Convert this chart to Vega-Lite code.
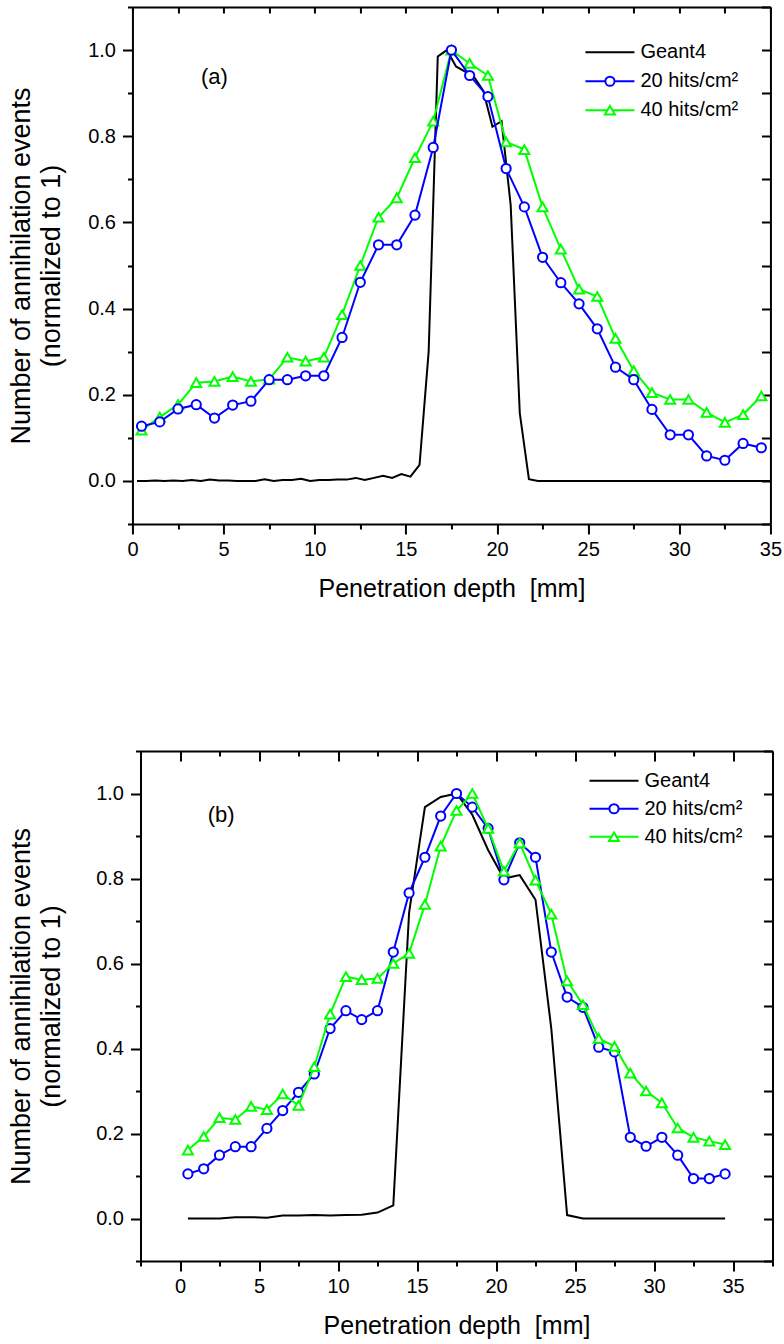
{
  "$schema": "https://vega.github.io/schema/vega-lite/v6.json",
  "background": "white",
  "padding": {"left": 7, "top": 6, "right": 0, "bottom": 5},
  "spacing": 149,
  "center": true,
  "datasets": {
    "a": [
      {"s":"Geant4","x":0.25,"y":0},{"s":"Geant4","x":0.75,"y":0},{"s":"Geant4","x":1.25,"y":0.001},{"s":"Geant4","x":1.75,"y":0},{"s":"Geant4","x":2.25,"y":0.001},{"s":"Geant4","x":2.75,"y":0},{"s":"Geant4","x":3.25,"y":0.002},{"s":"Geant4","x":3.75,"y":0},{"s":"Geant4","x":4.25,"y":0.003},{"s":"Geant4","x":4.75,"y":0.001},{"s":"Geant4","x":5.25,"y":0.001},{"s":"Geant4","x":5.75,"y":0},{"s":"Geant4","x":6.25,"y":0},{"s":"Geant4","x":6.75,"y":0},{"s":"Geant4","x":7.25,"y":0.004},{"s":"Geant4","x":7.75,"y":0},{"s":"Geant4","x":8.25,"y":0.002},{"s":"Geant4","x":8.75,"y":0.002},{"s":"Geant4","x":9.25,"y":0.005},{"s":"Geant4","x":9.75,"y":0},{"s":"Geant4","x":10.25,"y":0.002},{"s":"Geant4","x":10.75,"y":0.002},{"s":"Geant4","x":11.25,"y":0.003},{"s":"Geant4","x":11.75,"y":0.003},{"s":"Geant4","x":12.25,"y":0.007},{"s":"Geant4","x":12.75,"y":0.002},{"s":"Geant4","x":13.25,"y":0.007},{"s":"Geant4","x":13.75,"y":0.012},{"s":"Geant4","x":14.25,"y":0.007},{"s":"Geant4","x":14.75,"y":0.016},{"s":"Geant4","x":15.25,"y":0.01},{"s":"Geant4","x":15.75,"y":0.037},{"s":"Geant4","x":16.25,"y":0.3},{"s":"Geant4","x":16.75,"y":0.985},{"s":"Geant4","x":17.25,"y":1.0},{"s":"Geant4","x":17.75,"y":0.962},{"s":"Geant4","x":18.25,"y":0.95},{"s":"Geant4","x":18.75,"y":0.937},{"s":"Geant4","x":19.25,"y":0.905},{"s":"Geant4","x":19.75,"y":0.822},{"s":"Geant4","x":20.25,"y":0.835},{"s":"Geant4","x":20.75,"y":0.64},{"s":"Geant4","x":21.25,"y":0.157},{"s":"Geant4","x":21.75,"y":0.004},{"s":"Geant4","x":22.25,"y":0},{"s":"Geant4","x":22.75,"y":0},{"s":"Geant4","x":23.25,"y":0},{"s":"Geant4","x":23.75,"y":0},{"s":"Geant4","x":24.25,"y":0},{"s":"Geant4","x":24.75,"y":0},{"s":"Geant4","x":25.25,"y":0},{"s":"Geant4","x":25.75,"y":0},{"s":"Geant4","x":26.25,"y":0},{"s":"Geant4","x":26.75,"y":0},{"s":"Geant4","x":27.25,"y":0},{"s":"Geant4","x":27.75,"y":0},{"s":"Geant4","x":28.25,"y":0},{"s":"Geant4","x":28.75,"y":0},{"s":"Geant4","x":29.25,"y":0},{"s":"Geant4","x":29.75,"y":0},{"s":"Geant4","x":30.25,"y":0},{"s":"Geant4","x":30.75,"y":0},{"s":"Geant4","x":31.25,"y":0},{"s":"Geant4","x":31.75,"y":0},{"s":"Geant4","x":32.25,"y":0},{"s":"Geant4","x":32.75,"y":0},{"s":"Geant4","x":33.25,"y":0},{"s":"Geant4","x":33.75,"y":0},{"s":"Geant4","x":34.25,"y":0},{"s":"Geant4","x":34.75,"y":0},{"s":"Geant4","x":35,"y":0},
      {"s":"20 hits/cm²","x":0.5,"y":0.127},{"s":"20 hits/cm²","x":1.5,"y":0.137},{"s":"20 hits/cm²","x":2.5,"y":0.167},{"s":"20 hits/cm²","x":3.5,"y":0.177},{"s":"20 hits/cm²","x":4.5,"y":0.146},{"s":"20 hits/cm²","x":5.5,"y":0.176},{"s":"20 hits/cm²","x":6.5,"y":0.185},{"s":"20 hits/cm²","x":7.5,"y":0.235},{"s":"20 hits/cm²","x":8.5,"y":0.235},{"s":"20 hits/cm²","x":9.5,"y":0.244},{"s":"20 hits/cm²","x":10.5,"y":0.244},{"s":"20 hits/cm²","x":11.5,"y":0.333},{"s":"20 hits/cm²","x":12.5,"y":0.461},{"s":"20 hits/cm²","x":13.5,"y":0.548},{"s":"20 hits/cm²","x":14.5,"y":0.548},{"s":"20 hits/cm²","x":15.5,"y":0.617},{"s":"20 hits/cm²","x":16.5,"y":0.774},{"s":"20 hits/cm²","x":17.5,"y":1.0},{"s":"20 hits/cm²","x":18.5,"y":0.941},{"s":"20 hits/cm²","x":19.5,"y":0.892},{"s":"20 hits/cm²","x":20.5,"y":0.725},{"s":"20 hits/cm²","x":21.5,"y":0.636},{"s":"20 hits/cm²","x":22.5,"y":0.519},{"s":"20 hits/cm²","x":23.5,"y":0.46},{"s":"20 hits/cm²","x":24.5,"y":0.411},{"s":"20 hits/cm²","x":25.5,"y":0.353},{"s":"20 hits/cm²","x":26.5,"y":0.264},{"s":"20 hits/cm²","x":27.5,"y":0.235},{"s":"20 hits/cm²","x":28.5,"y":0.166},{"s":"20 hits/cm²","x":29.5,"y":0.107},{"s":"20 hits/cm²","x":30.5,"y":0.107},{"s":"20 hits/cm²","x":31.5,"y":0.058},{"s":"20 hits/cm²","x":32.5,"y":0.048},{"s":"20 hits/cm²","x":33.5,"y":0.087},{"s":"20 hits/cm²","x":34.5,"y":0.077},
      {"s":"40 hits/cm²","x":0.5,"y":0.118},{"s":"40 hits/cm²","x":1.5,"y":0.148},{"s":"40 hits/cm²","x":2.5,"y":0.177},{"s":"40 hits/cm²","x":3.5,"y":0.228},{"s":"40 hits/cm²","x":4.5,"y":0.231},{"s":"40 hits/cm²","x":5.5,"y":0.242},{"s":"40 hits/cm²","x":6.5,"y":0.231},{"s":"40 hits/cm²","x":7.5,"y":0.236},{"s":"40 hits/cm²","x":8.5,"y":0.287},{"s":"40 hits/cm²","x":9.5,"y":0.278},{"s":"40 hits/cm²","x":10.5,"y":0.287},{"s":"40 hits/cm²","x":11.5,"y":0.386},{"s":"40 hits/cm²","x":12.5,"y":0.5},{"s":"40 hits/cm²","x":13.5,"y":0.612},{"s":"40 hits/cm²","x":14.5,"y":0.657},{"s":"40 hits/cm²","x":15.5,"y":0.75},{"s":"40 hits/cm²","x":16.5,"y":0.835},{"s":"40 hits/cm²","x":17.5,"y":1.0},{"s":"40 hits/cm²","x":18.5,"y":0.969},{"s":"40 hits/cm²","x":19.5,"y":0.941},{"s":"40 hits/cm²","x":20.5,"y":0.787},{"s":"40 hits/cm²","x":21.5,"y":0.769},{"s":"40 hits/cm²","x":22.5,"y":0.636},{"s":"40 hits/cm²","x":23.5,"y":0.538},{"s":"40 hits/cm²","x":24.5,"y":0.445},{"s":"40 hits/cm²","x":25.5,"y":0.428},{"s":"40 hits/cm²","x":26.5,"y":0.331},{"s":"40 hits/cm²","x":27.5,"y":0.256},{"s":"40 hits/cm²","x":28.5,"y":0.205},{"s":"40 hits/cm²","x":29.5,"y":0.189},{"s":"40 hits/cm²","x":30.5,"y":0.189},{"s":"40 hits/cm²","x":31.5,"y":0.159},{"s":"40 hits/cm²","x":32.5,"y":0.136},{"s":"40 hits/cm²","x":33.5,"y":0.154},{"s":"40 hits/cm²","x":34.5,"y":0.197}
    ],
    "b": [
      {"s":"Geant4","x":0.5,"y":0},{"s":"Geant4","x":1.5,"y":0},{"s":"Geant4","x":2.5,"y":0},{"s":"Geant4","x":3.5,"y":0.003},{"s":"Geant4","x":4.5,"y":0.003},{"s":"Geant4","x":5.5,"y":0.002},{"s":"Geant4","x":6.5,"y":0.007},{"s":"Geant4","x":7.5,"y":0.007},{"s":"Geant4","x":8.5,"y":0.008},{"s":"Geant4","x":9.5,"y":0.007},{"s":"Geant4","x":10.5,"y":0.008},{"s":"Geant4","x":11.5,"y":0.009},{"s":"Geant4","x":12.5,"y":0.014},{"s":"Geant4","x":13.5,"y":0.031},{"s":"Geant4","x":14.5,"y":0.72},{"s":"Geant4","x":15.5,"y":0.968},{"s":"Geant4","x":16.5,"y":0.992},{"s":"Geant4","x":17.5,"y":1.0},{"s":"Geant4","x":18.5,"y":0.95},{"s":"Geant4","x":19.5,"y":0.867},{"s":"Geant4","x":20.5,"y":0.8},{"s":"Geant4","x":21.5,"y":0.808},{"s":"Geant4","x":22.5,"y":0.75},{"s":"Geant4","x":23.5,"y":0.447},{"s":"Geant4","x":24.5,"y":0.008},{"s":"Geant4","x":25.5,"y":0},{"s":"Geant4","x":26.5,"y":0},{"s":"Geant4","x":27.5,"y":0},{"s":"Geant4","x":28.5,"y":0},{"s":"Geant4","x":29.5,"y":0},{"s":"Geant4","x":30.5,"y":0},{"s":"Geant4","x":31.5,"y":0},{"s":"Geant4","x":32.5,"y":0},{"s":"Geant4","x":33.5,"y":0},{"s":"Geant4","x":34.5,"y":0},
      {"s":"20 hits/cm²","x":0.5,"y":0.105},{"s":"20 hits/cm²","x":1.5,"y":0.117},{"s":"20 hits/cm²","x":2.5,"y":0.149},{"s":"20 hits/cm²","x":3.5,"y":0.169},{"s":"20 hits/cm²","x":4.5,"y":0.169},{"s":"20 hits/cm²","x":5.5,"y":0.212},{"s":"20 hits/cm²","x":6.5,"y":0.254},{"s":"20 hits/cm²","x":7.5,"y":0.297},{"s":"20 hits/cm²","x":8.5,"y":0.34},{"s":"20 hits/cm²","x":9.5,"y":0.447},{"s":"20 hits/cm²","x":10.5,"y":0.489},{"s":"20 hits/cm²","x":11.5,"y":0.468},{"s":"20 hits/cm²","x":12.5,"y":0.489},{"s":"20 hits/cm²","x":13.5,"y":0.627},{"s":"20 hits/cm²","x":14.5,"y":0.766},{"s":"20 hits/cm²","x":15.5,"y":0.85},{"s":"20 hits/cm²","x":16.5,"y":0.947},{"s":"20 hits/cm²","x":17.5,"y":1.0},{"s":"20 hits/cm²","x":18.5,"y":0.968},{"s":"20 hits/cm²","x":19.5,"y":0.918},{"s":"20 hits/cm²","x":20.5,"y":0.797},{"s":"20 hits/cm²","x":21.5,"y":0.884},{"s":"20 hits/cm²","x":22.5,"y":0.85},{"s":"20 hits/cm²","x":23.5,"y":0.627},{"s":"20 hits/cm²","x":24.5,"y":0.521},{"s":"20 hits/cm²","x":25.5,"y":0.497},{"s":"20 hits/cm²","x":26.5,"y":0.403},{"s":"20 hits/cm²","x":27.5,"y":0.392},{"s":"20 hits/cm²","x":28.5,"y":0.191},{"s":"20 hits/cm²","x":29.5,"y":0.17},{"s":"20 hits/cm²","x":30.5,"y":0.191},{"s":"20 hits/cm²","x":31.5,"y":0.149},{"s":"20 hits/cm²","x":32.5,"y":0.094},{"s":"20 hits/cm²","x":33.5,"y":0.094},{"s":"20 hits/cm²","x":34.5,"y":0.105},
      {"s":"40 hits/cm²","x":0.5,"y":0.161},{"s":"40 hits/cm²","x":1.5,"y":0.193},{"s":"40 hits/cm²","x":2.5,"y":0.237},{"s":"40 hits/cm²","x":3.5,"y":0.233},{"s":"40 hits/cm²","x":4.5,"y":0.264},{"s":"40 hits/cm²","x":5.5,"y":0.256},{"s":"40 hits/cm²","x":6.5,"y":0.293},{"s":"40 hits/cm²","x":7.5,"y":0.266},{"s":"40 hits/cm²","x":8.5,"y":0.357},{"s":"40 hits/cm²","x":9.5,"y":0.481},{"s":"40 hits/cm²","x":10.5,"y":0.569},{"s":"40 hits/cm²","x":11.5,"y":0.562},{"s":"40 hits/cm²","x":12.5,"y":0.565},{"s":"40 hits/cm²","x":13.5,"y":0.6},{"s":"40 hits/cm²","x":14.5,"y":0.624},{"s":"40 hits/cm²","x":15.5,"y":0.739},{"s":"40 hits/cm²","x":16.5,"y":0.876},{"s":"40 hits/cm²","x":17.5,"y":0.96},{"s":"40 hits/cm²","x":18.5,"y":1.0},{"s":"40 hits/cm²","x":19.5,"y":0.918},{"s":"40 hits/cm²","x":20.5,"y":0.817},{"s":"40 hits/cm²","x":21.5,"y":0.884},{"s":"40 hits/cm²","x":22.5,"y":0.796},{"s":"40 hits/cm²","x":23.5,"y":0.716},{"s":"40 hits/cm²","x":24.5,"y":0.559},{"s":"40 hits/cm²","x":25.5,"y":0.503},{"s":"40 hits/cm²","x":26.5,"y":0.424},{"s":"40 hits/cm²","x":27.5,"y":0.405},{"s":"40 hits/cm²","x":28.5,"y":0.342},{"s":"40 hits/cm²","x":29.5,"y":0.3},{"s":"40 hits/cm²","x":30.5,"y":0.272},{"s":"40 hits/cm²","x":31.5,"y":0.213},{"s":"40 hits/cm²","x":32.5,"y":0.191},{"s":"40 hits/cm²","x":33.5,"y":0.182},{"s":"40 hits/cm²","x":34.5,"y":0.174}
    ],
    "labA": [{"t": "(a)", "x": 4.5, "y": 0.937}],
    "labB": [{"t": "(b)", "x": 2.6, "y": 0.95}]
  },
  "vconcat": [
    {
      "width": 638,
      "height": 517,
      "data": {"name": "a"},
      "encoding": {
        "x": {"field": "x", "type": "quantitative", "scale": {"domain": [0, 35], "nice": false, "zero": false}, "axis": null},
        "y": {"field": "y", "type": "quantitative", "scale": {"domain": [-0.1, 1.1], "nice": false, "zero": false}, "axis": null}
      },
      "layer": [
        {
          "transform": [{"filter": "datum.s === 'Geant4'"}],
          "mark": {"type": "line", "color": "black", "strokeWidth": 2},
          "encoding": {
            "x": {"field": "x", "type": "quantitative", "scale": {"domain": [0, 35], "nice": false, "zero": false},
              "axis": {"orient": "bottom", "values": [0,2.5,5,7.5,10,12.5,15,17.5,20,22.5,25,27.5,30,32.5,35],
                "labelExpr": "datum.value % 5 === 0 ? format(datum.value, 'd') : ''", "labelFlush": false,
                "tickSize": {"condition": {"test": "datum.value % 5 === 0", "value": 10}, "value": 5},
                "labelPadding": 5, "title": "Penetration depth\u00a0 [mm]", "titleFontSize": 25, "titlePadding": 17}},
            "y": {"field": "y", "type": "quantitative", "scale": {"domain": [-0.1, 1.1], "nice": false, "zero": false},
              "axis": {"orient": "left", "values": [-0.1,0,0.1,0.2,0.3,0.4,0.5,0.6,0.7,0.8,0.9,1.0,1.1],
                "labelExpr": "(round(datum.value*10) % 2 === 0 && datum.value > -0.05 && datum.value < 1.05) ? format(datum.value, '.1f') : ''", "labelFlush": false,
                "tickSize": {"condition": {"test": "round(datum.value*10) % 2 === 0 && datum.value > -0.05 && datum.value < 1.05", "value": 10}, "value": 5},
                "labelPadding": 7, "title": ["Number of annihilation events", "(normalized to 1)"], "titleFontSize": 27, "titleLineHeight": 30, "titlePadding": 22}}
          }
        },
        {
          "transform": [{"filter": "datum.s === '40 hits/cm²'"}],
          "mark": {"type": "line", "color": "#00ff00", "strokeWidth": 2},
          "encoding": {
            "x": {"field": "x", "type": "quantitative", "scale": {"domain": [0, 35], "nice": false, "zero": false},
              "axis": {"orient": "top", "values": [0,2.5,5,7.5,10,12.5,15,17.5,20,22.5,25,27.5,30,32.5,35], "labels": false, "tickSize": -6, "title": null}},
            "y": {"field": "y", "type": "quantitative", "scale": {"domain": [-0.1, 1.1], "nice": false, "zero": false},
              "axis": {"orient": "right", "values": [-0.1,0,0.1,0.2,0.3,0.4,0.5,0.6,0.7,0.8,0.9,1.0,1.1], "labels": false, "tickSize": -9,
                "title": "\u00a0", "titleFontSize": 2, "titlePadding": 0}}
          }
        },
        {
          "transform": [{"filter": "datum.s === '40 hits/cm²'"}],
          "mark": {"type": "point", "shape": "triangle-up", "filled": true, "fill": "white", "stroke": "#00ff00", "strokeWidth": 2, "size": 100, "opacity": 1}
        },
        {
          "transform": [{"filter": "datum.s === '20 hits/cm²'"}],
          "mark": {"type": "line", "color": "#0000ff", "strokeWidth": 2}
        },
        {
          "transform": [{"filter": "datum.s === '20 hits/cm²'"}],
          "mark": {"type": "point", "shape": "circle", "filled": true, "fill": "white", "stroke": "#0000ff", "strokeWidth": 2, "size": 85, "opacity": 1}
        },
        {
          "transform": [{"filter": "false"}],
          "mark": {"type": "point", "filled": true, "fill": "white", "strokeWidth": 2, "size": 2401, "opacity": 1},
          "encoding": {
            "stroke": {"field": "s", "type": "nominal",
              "scale": {"domain": ["Geant4", "20 hits/cm²", "40 hits/cm²"], "range": ["#000000", "#0000ff", "#00ff00"]},
              "legend": {"orient": "none", "legendX": 452, "legendY": 31, "title": null, "symbolSize": 2401, "symbolStrokeWidth": 2, "symbolFillColor": "white", "labelFontSize": 20, "labelFont": "Liberation Sans", "labelColor": "black", "labelOffset": 5, "clipHeight": 28.5, "rowPadding": 0, "padding": 0}},
            "shape": {"field": "s", "type": "nominal",
              "scale": {"domain": ["Geant4", "20 hits/cm²", "40 hits/cm²"], "range": ["M-1,0L1,0", "M-1,0L-0.188,0M0.188,0L1,0M-0.188,0A0.188,0.188,0,1,0,0.188,0A0.188,0.188,0,1,0,-0.188,0Z", "M-1,0L-0.102,0M0.102,0L1,0M0,-0.177L-0.204,0.177L0.204,0.177Z"]},
              "legend": {"orient": "none", "legendX": 452, "legendY": 31, "title": null, "symbolSize": 2401, "symbolStrokeWidth": 2, "symbolFillColor": "white", "labelFontSize": 20, "labelFont": "Liberation Sans", "labelColor": "black", "labelOffset": 5, "clipHeight": 28.5, "rowPadding": 0, "padding": 0}}
          }
        },
        {
          "data": {"name": "labA"},
          "mark": {"type": "text", "fontSize": 22, "font": "Liberation Sans", "color": "black"},
          "encoding": {"text": {"field": "t"}}
        }
      ],
      "resolve": {"axis": {"x": "independent", "y": "independent"}}
    },
    {
      "width": 632,
      "height": 510,
      "data": {"name": "b"},
      "encoding": {
        "x": {"field": "x", "type": "quantitative", "scale": {"domain": [-2.5, 37.5], "nice": false, "zero": false}, "axis": null},
        "y": {"field": "y", "type": "quantitative", "scale": {"domain": [-0.1, 1.1], "nice": false, "zero": false}, "axis": null}
      },
      "layer": [
        {
          "transform": [{"filter": "datum.s === 'Geant4'"}],
          "mark": {"type": "line", "color": "black", "strokeWidth": 2},
          "encoding": {
            "x": {"field": "x", "type": "quantitative", "scale": {"domain": [-2.5, 37.5], "nice": false, "zero": false},
              "axis": {"orient": "bottom", "values": [-2.5,0,2.5,5,7.5,10,12.5,15,17.5,20,22.5,25,27.5,30,32.5,35,37.5],
                "labelExpr": "(datum.value % 5 === 0 && datum.value >= 0 && datum.value <= 35) ? format(datum.value, 'd') : ''", "labelFlush": false,
                "tickSize": {"condition": {"test": "datum.value % 5 === 0", "value": 10}, "value": 5},
                "labelPadding": 5, "title": "Penetration depth\u00a0 [mm]", "titleFontSize": 25, "titlePadding": 17}},
            "y": {"field": "y", "type": "quantitative", "scale": {"domain": [-0.1, 1.1], "nice": false, "zero": false},
              "axis": {"orient": "left", "values": [-0.1,0,0.1,0.2,0.3,0.4,0.5,0.6,0.7,0.8,0.9,1.0,1.1],
                "labelExpr": "(round(datum.value*10) % 2 === 0 && datum.value > -0.05 && datum.value < 1.05) ? format(datum.value, '.1f') : ''", "labelFlush": false,
                "tickSize": {"condition": {"test": "round(datum.value*10) % 2 === 0 && datum.value > -0.05 && datum.value < 1.05", "value": 10}, "value": 5},
                "labelPadding": 7, "title": ["Number of annihilation events", "(normalized to 1)"], "titleFontSize": 27, "titleLineHeight": 30, "titlePadding": 30}}
          }
        },
        {
          "transform": [{"filter": "datum.s === '20 hits/cm²'"}],
          "mark": {"type": "line", "color": "#0000ff", "strokeWidth": 2},
          "encoding": {
            "x": {"field": "x", "type": "quantitative", "scale": {"domain": [-2.5, 37.5], "nice": false, "zero": false},
              "axis": {"orient": "top", "values": [-2.5,0,2.5,5,7.5,10,12.5,15,17.5,20,22.5,25,27.5,30,32.5,35,37.5], "labels": false,
                "tickSize": {"condition": {"test": "datum.value % 5 === 0", "value": -10}, "value": -5}, "title": null}},
            "y": {"field": "y", "type": "quantitative", "scale": {"domain": [-0.1, 1.1], "nice": false, "zero": false},
              "axis": {"orient": "right", "values": [-0.1,0,0.1,0.2,0.3,0.4,0.5,0.6,0.7,0.8,0.9,1.0,1.1], "labels": false, "tickSize": -9, "title": null}}
          }
        },
        {
          "transform": [{"filter": "datum.s === '20 hits/cm²'"}],
          "mark": {"type": "point", "shape": "circle", "filled": true, "fill": "white", "stroke": "#0000ff", "strokeWidth": 2, "size": 85, "opacity": 1}
        },
        {
          "transform": [{"filter": "datum.s === '40 hits/cm²'"}],
          "mark": {"type": "line", "color": "#00ff00", "strokeWidth": 2}
        },
        {
          "transform": [{"filter": "datum.s === '40 hits/cm²'"}],
          "mark": {"type": "point", "shape": "triangle-up", "filled": true, "fill": "white", "stroke": "#00ff00", "strokeWidth": 2, "size": 100, "opacity": 1}
        },
        {
          "transform": [{"filter": "false"}],
          "mark": {"type": "point", "filled": true, "fill": "white", "strokeWidth": 2, "size": 2401, "opacity": 1},
          "encoding": {
            "stroke": {"field": "s", "type": "nominal",
              "scale": {"domain": ["Geant4", "20 hits/cm²", "40 hits/cm²"], "range": ["#000000", "#0000ff", "#00ff00"]},
              "legend": {"orient": "none", "legendX": 448, "legendY": 16, "title": null, "symbolSize": 2401, "symbolStrokeWidth": 2, "symbolFillColor": "white", "labelFontSize": 20, "labelFont": "Liberation Sans", "labelColor": "black", "labelOffset": 5, "clipHeight": 27.5, "rowPadding": 0, "padding": 0}},
            "shape": {"field": "s", "type": "nominal",
              "scale": {"domain": ["Geant4", "20 hits/cm²", "40 hits/cm²"], "range": ["M-1,0L1,0", "M-1,0L-0.188,0M0.188,0L1,0M-0.188,0A0.188,0.188,0,1,0,0.188,0A0.188,0.188,0,1,0,-0.188,0Z", "M-1,0L-0.102,0M0.102,0L1,0M0,-0.177L-0.204,0.177L0.204,0.177Z"]},
              "legend": {"orient": "none", "legendX": 448, "legendY": 16, "title": null, "symbolSize": 2401, "symbolStrokeWidth": 2, "symbolFillColor": "white", "labelFontSize": 20, "labelFont": "Liberation Sans", "labelColor": "black", "labelOffset": 5, "clipHeight": 27.5, "rowPadding": 0, "padding": 0}}
          }
        },
        {
          "data": {"name": "labB"},
          "mark": {"type": "text", "fontSize": 22, "font": "Liberation Sans", "color": "black"},
          "encoding": {"text": {"field": "t"}}
        }
      ],
      "resolve": {"axis": {"x": "independent", "y": "independent"}}
    }
  ],
  "resolve": {
    "scale": {"x": "independent", "y": "independent", "stroke": "independent", "shape": "independent"},
    "legend": {"stroke": "independent", "shape": "independent"}
  },
  "config": {
    "view": {"stroke": null},
    "font": "Liberation Sans",
    "axis": {
      "grid": false,
      "domainColor": "black",
      "domainWidth": 2,
      "tickColor": "black",
      "tickWidth": 2,
      "labelFont": "Liberation Sans",
      "labelFontSize": 20,
      "labelColor": "black",
      "titleFont": "Liberation Sans",
      "titleFontWeight": "normal",
      "titleColor": "black"
    }
  }
}
